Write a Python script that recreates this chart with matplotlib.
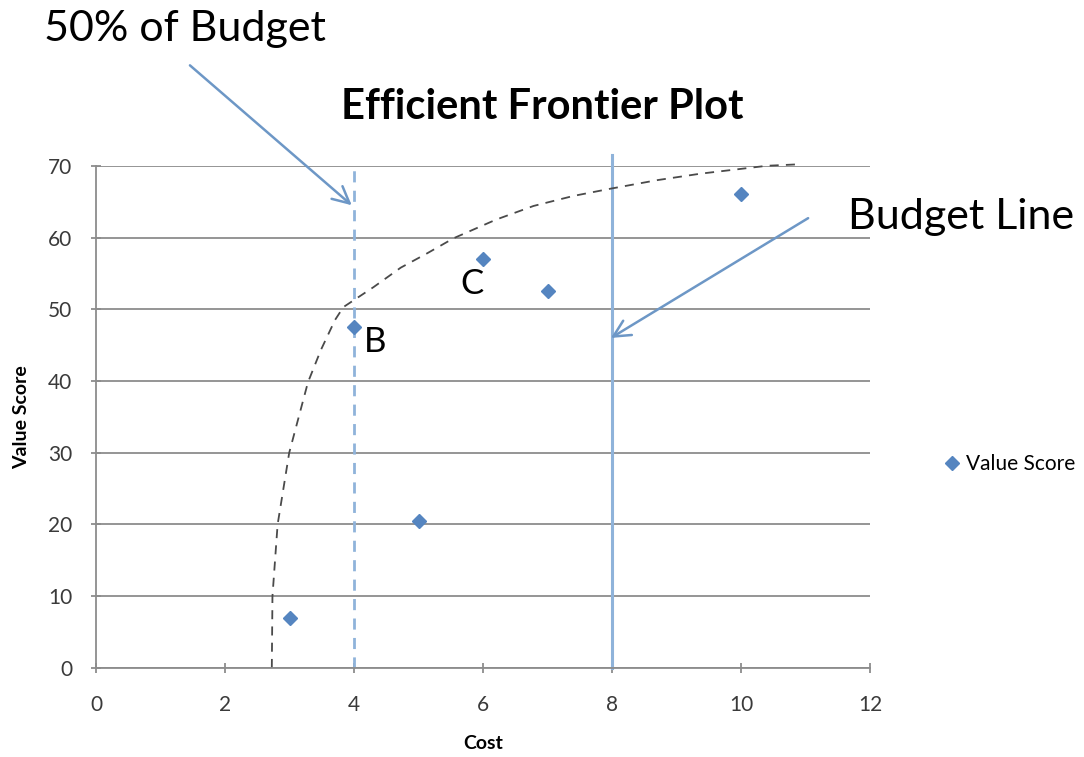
import matplotlib
matplotlib.use("Agg")
import matplotlib.pyplot as plt

# Projets : cout et score de valeur
cost = [3, 4, 5, 6, 7, 10]
value_score = [7, 47.5, 20.5, 57, 52.5, 66]

# Frontiere efficiente tracee a main levee
frontier_cost = [2.72, 2.73, 2.81, 2.99, 3.28, 3.48, 3.7, 3.83, 4.3, 4.72, 5.13,
                 5.54, 6.2, 6.78, 7.4, 7.97, 8.7, 9.37, 10.4, 10.88]
frontier_value = [0, 10, 20, 30, 39.8, 44.3, 48.5, 50.3, 53.1, 55.8, 57.8,
                  59.9, 62.5, 64.4, 65.8, 66.8, 68.0, 68.9, 70, 70.2]

budget = 8
half_budget = budget / 2

plt.rcParams['font.family'] = ['Lato', 'DejaVu Sans']

fig = plt.figure(figsize=(10.84, 7.57), dpi=100)
ax = fig.add_axes([0.089, 0.1176, 0.7136, 0.6634])

grid_col = '#8c8c8c'
line_blue = '#8fb3da'
mark_blue = '#5585c0'
arrow_blue = '#6d97c6'

# Grille horizontale seulement
ax.set_xlim(0, 12)
ax.set_ylim(0, 70)
ax.set_xticks(range(0, 13, 2))
ax.set_yticks(range(0, 71, 10))
ax.yaxis.grid(True, color=grid_col, linewidth=1.3)
ax.set_axisbelow(True)
for s in ['top', 'right']:
    ax.spines[s].set_visible(False)
for s in ['left', 'bottom']:
    ax.spines[s].set_color(grid_col)
    ax.spines[s].set_linewidth(1.3)
ax.tick_params(axis='both', direction='inout', length=7, width=1.3, color=grid_col,
               labelsize=15, labelcolor='#3a3a3a')
ax.tick_params(axis='x', pad=16)
ax.tick_params(axis='y', pad=14)

# Lignes de budget
ax.plot([half_budget, half_budget], [0, 70], linestyle=(0, (4, 3)), color=line_blue,
        linewidth=2, clip_on=False)
ax.plot([budget, budget], [0, 71.5], color=line_blue, linewidth=2.2, clip_on=False)

# Frontiere en pointilles
ax.plot(frontier_cost, frontier_value, linestyle=(0, (5, 4)), color='#4a4a4a',
        linewidth=1.3, clip_on=False)

# Points
ax.plot(cost, value_score, linestyle='none', marker='D', markersize=7.5,
        color=mark_blue, label='Value Score', zorder=5)

ax.set_xlabel('Cost', fontsize=14, fontweight='bold', labelpad=14)
ax.set_ylabel('Value Score', fontsize=14, fontweight='bold', labelpad=13)

fig.text(0.5, 0.859, 'Efficient Frontier Plot', ha='center', va='center',
         fontsize=30, fontweight='bold')

# Etiquettes B et C
ax.text(4.15, 45.5, 'B', fontsize=25, va='center', ha='left')
ax.text(6.0, 53.5, 'C', fontsize=25, va='center', ha='right')

# Textes et fleches
fig.text(0.041, 0.962, '50% of Budget', fontsize=31, ha='left', va='center')
fig.text(0.782, 0.713, 'Budget Line', fontsize=31, ha='left', va='center')
arrow = dict(arrowstyle='->', color=arrow_blue, lw=1.8, mutation_scale=30,
             shrinkA=0, shrinkB=0)
ax.annotate('', xy=(3.96, 64.5), xytext=(1.45, 84), annotation_clip=False,
            arrowprops=arrow)
ax.annotate('', xy=(7.98, 46), xytext=(11.04, 62.7), annotation_clip=False,
            arrowprops=arrow)

ax.legend(loc='center left', bbox_to_anchor=(1.065, 0.406), frameon=False,
          fontsize=15, handletextpad=0.1, handlelength=1.2, markerscale=0.9)

fig.savefig('out.png', dpi=100)
